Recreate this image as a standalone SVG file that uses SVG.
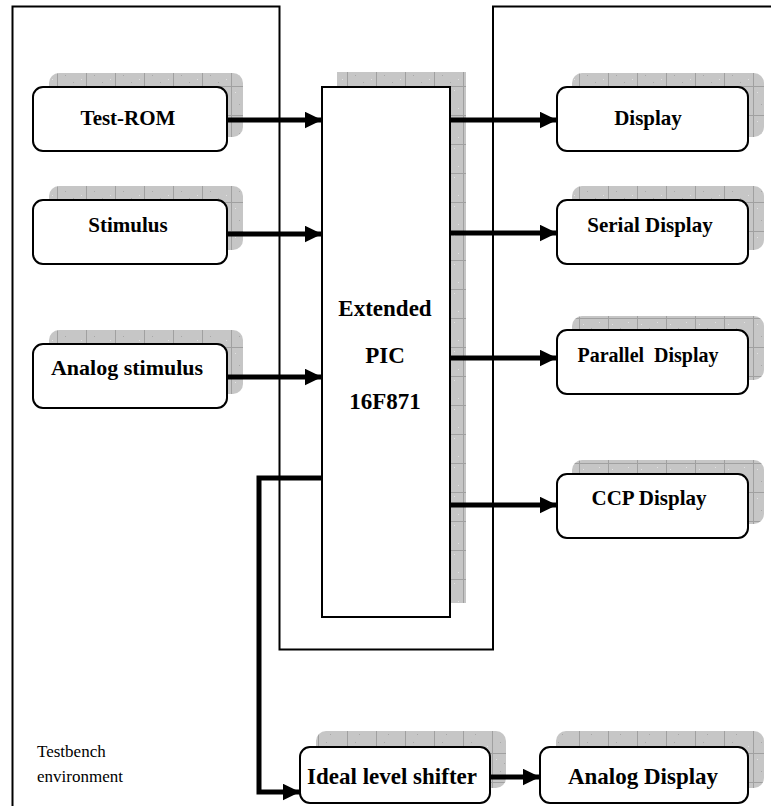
<svg xmlns="http://www.w3.org/2000/svg" width="771" height="806" viewBox="0 0 771 806">
<style>
.frame{fill:none;stroke:#000;stroke-width:2}
.box{fill:#fff;stroke:#000;stroke-width:2}
.shadow{fill:url(#stip)}
.lbl{font-family:"Liberation Serif","Times New Roman",serif;font-weight:bold;font-size:21px;text-anchor:middle;fill:#000}
.big{font-family:"Liberation Serif","Times New Roman",serif;font-weight:bold;font-size:23px;text-anchor:middle;fill:#000}
.note{font-family:"Liberation Serif","Times New Roman",serif;font-size:17px;fill:#000}
.conn{fill:none;stroke:#000;stroke-width:5}
</style>
<defs>
<pattern id="stip" patternUnits="userSpaceOnUse" width="29" height="29">
<rect width="29" height="29" fill="#c6c6c6"/>
<rect x="3" y="5" width="1" height="1" fill="#e2e2e2"/>
<rect x="11" y="9" width="1" height="1" fill="#a8a8a8"/>
<rect x="19" y="3" width="1" height="1" fill="#e2e2e2"/>
<rect x="7" y="17" width="1" height="1" fill="#a8a8a8"/>
<rect x="23" y="21" width="1" height="1" fill="#e2e2e2"/>
<rect x="15" y="24" width="1" height="1" fill="#a8a8a8"/>
<path d="M28.5 0V29M0 28.5H29" stroke="#a0a0a0" stroke-width="1"/>
</pattern>
<marker id="ah" markerWidth="3.5" markerHeight="3.4" refX="3.5" refY="1.7" orient="auto" markerUnits="strokeWidth">
<path d="M0,0L3.5,1.7L0,3.4z" fill="#000"/>
</marker>
</defs>

<g id="environment">
<path class="frame" d="M12.5,806V6.5H279.5V649.5H493V6.5H771"/>
<text class="note" x="37" y="757">Testbench</text>
<text class="note" x="37" y="782">environment</text>
</g>

<g id="test-rom">
<rect class="shadow" x="49" y="73" width="194" height="64" rx="10"/>
<rect class="box" x="33" y="87" width="194" height="64" rx="10"/>
<text class="lbl" x="128" y="125">Test-ROM</text>
</g>

<g id="stimulus">
<rect class="shadow" x="49" y="186" width="194" height="64" rx="10"/>
<rect class="box" x="33" y="200" width="194" height="64" rx="10"/>
<text class="lbl" x="128" y="232">Stimulus</text>
</g>

<g id="analog-stimulus">
<rect class="shadow" x="49" y="330" width="194" height="64" rx="10"/>
<rect class="box" x="33" y="344" width="194" height="64" rx="10"/>
<text class="lbl" x="127" y="375" style="font-size:22px">Analog stimulus</text>
</g>

<g id="pic">
<rect class="shadow" x="337" y="72" width="129" height="531"/>
<rect class="box" x="322" y="87" width="128" height="530"/>
<text class="big" x="385" y="316">Extended</text>
<text class="big" x="385" y="363">PIC</text>
<text class="big" x="385" y="409">16F871</text>
</g>

<g id="display">
<rect class="shadow" x="572" y="73" width="192" height="64" rx="10"/>
<rect class="box" x="557" y="87" width="191" height="64" rx="10"/>
<text class="lbl" x="648" y="125">Display</text>
</g>

<g id="serial-display">
<rect class="shadow" x="572" y="186" width="192" height="64" rx="10"/>
<rect class="box" x="557" y="200" width="191" height="64" rx="10"/>
<text class="lbl" x="650" y="232">Serial Display</text>
</g>

<g id="parallel-display">
<rect class="shadow" x="572" y="316" width="192" height="64" rx="10"/>
<rect class="box" x="557" y="330" width="191" height="64" rx="10"/>
<text class="lbl" x="648" y="362" xml:space="preserve" style="font-size:20px">Parallel  Display</text>
</g>

<g id="ccp-display">
<rect class="shadow" x="572" y="460" width="192" height="64" rx="10"/>
<rect class="box" x="557" y="474" width="191" height="64" rx="10"/>
<text class="lbl" x="649" y="505">CCP Display</text>
</g>

<g id="level-shifter">
<rect class="shadow" x="316" y="731" width="190" height="57" rx="10"/>
<rect class="box" x="300" y="747" width="190" height="56" rx="10"/>
<text class="lbl" x="392" y="784" style="font-size:23px">Ideal level shifter</text>
</g>

<g id="analog-display">
<rect class="shadow" x="556" y="731" width="208" height="57" rx="10"/>
<rect class="box" x="540" y="747" width="208" height="56" rx="10"/>
<text class="lbl" x="643" y="784" style="font-size:23px">Analog Display</text>
</g>

<g id="connectors">
<path class="conn" d="M227,120H322" marker-end="url(#ah)"/>
<path class="conn" d="M227,234H322" marker-end="url(#ah)"/>
<path class="conn" d="M227,377H322" marker-end="url(#ah)"/>
<path class="conn" d="M450,120H557" marker-end="url(#ah)"/>
<path class="conn" d="M450,233H557" marker-end="url(#ah)"/>
<path class="conn" d="M450,358H557" marker-end="url(#ah)"/>
<path class="conn" d="M450,505H557" marker-end="url(#ah)"/>
<path class="conn" d="M322,478H259V792H300" marker-end="url(#ah)"/>
<path class="conn" d="M490,777H540" marker-end="url(#ah)"/>
</g>
</svg>
